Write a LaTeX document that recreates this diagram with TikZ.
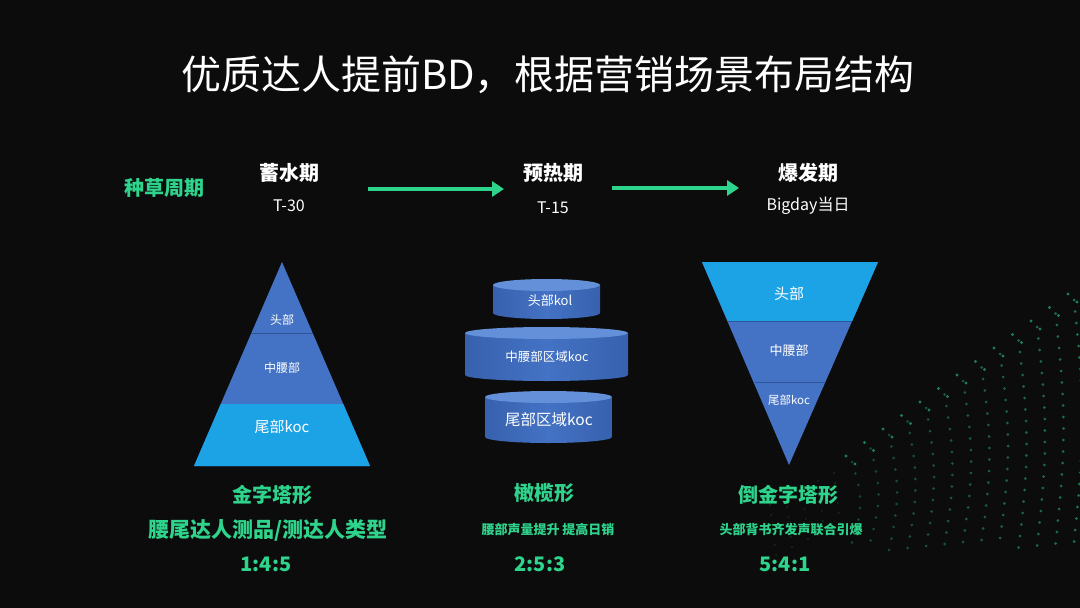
\documentclass[tikz,border=0pt]{standalone}
\usepackage{fontspec}
\setmainfont{Noto Sans CJK SC}
\usetikzlibrary{arrows.meta}
\definecolor{bg}{HTML}{0C0C0C}
\definecolor{grn}{HTML}{2ED38C}
\definecolor{pblue}{HTML}{4472C4}
\definecolor{pcyan}{HTML}{1CA3E6}
\definecolor{pline}{HTML}{2F5597}
\definecolor{ctop}{HTML}{6390D8}
\definecolor{cedge}{HTML}{3761AE}
\definecolor{dotc}{HTML}{1F8A5E}
\newcommand{\fs}[1]{\fontsize{#1}{#1}\selectfont}
\begin{document}
\begin{tikzpicture}[x=1pt,y=-1pt,
  wtxt/.style={text=white,inner sep=0pt,font=\fs{20}\bfseries},
  wsub/.style={text=white,inner sep=0pt,font=\fs{16}},
  gtxt/.style={text=grn,inner sep=0pt,font=\fs{20}\bfseries},
  gsmall/.style={text=grn,inner sep=0pt,font=\fs{13}\bfseries},
  lbl/.style={text=white,inner sep=0pt},
  flow/.style={draw=grn,line width=4.5pt,-{Triangle[length=12pt,width=15pt]}},
  sep/.style={draw=pline,line width=1pt}]
\useasboundingbox (0,0) rectangle (1080,608);
\fill[bg] (0,0) rectangle (1080,608);

% decorative dots
\foreach \i in {0,...,12} {
  \pgfmathsetmacro\xx{852+\i*18.5}
  \pgfmathsetmacro\yt{462-\i*13.5}
  \pgfmathsetmacro\yb{552-\i*0.5}
  \pgfmathtruncatemacro\n{(\yb-\yt)/11.5}
  \pgfmathsetmacro\op{0.45+\i*0.03}
  \foreach \j in {0,...,\n} {
    \pgfmathsetmacro\yy{\yt+\j*11.5}
    \pgfmathsetmacro\xo{\xx+8*sin(\j/(\n+0.01)*180)}
    \fill[dotc,opacity=\op] (\xo,\yy) circle (1.5);
  }
  \fill[dotc,opacity=0.9] (\xx-6,\yt-6) circle (1.6);
  \fill[dotc,opacity=0.9] (\xx+3,\yt+2) circle (1.6);
}
\foreach \i in {0,...,4} {
  \pgfmathsetmacro\xx{770+\i*16}
  \pgfmathsetmacro\yt{505-\i*8}
  \foreach \j in {0,...,5} {
    \pgfmathsetmacro\yy{\yt+\j*10}
    \fill[dotc,opacity=0.25] (\xx+\j*1.2,\yy) circle (1.1);
  }
}

% title
\node[text=white,font=\fs{40}] (title) at (548,75) {优质达人提前BD，根据营销场景布局结构};

% phases
\node[gtxt] (cycle) at (164,188) {种草周期};
\node[wtxt] (p1) at (289,173) {蓄水期};
\node[wsub] (p1t) at (289,206) {T-30};
\node[wtxt] (p2) at (553,173) {预热期};
\node[wsub] (p2t) at (553,208) {T-15};
\node[wtxt] (p3) at (808,173) {爆发期};
\node[wsub] (p3t) at (808,206) {Bigday当日};
\coordinate (a1s) at (368,189);
\coordinate (a1e) at (504,189);
\coordinate (a2s) at (612,188);
\coordinate (a2e) at (739,188);
\draw[flow] (a1s) -- (a1e);
\draw[flow] (a2s) -- (a2e);

% pyramid
\fill[pblue] (282,262) -- (194,466) -- (370,466) -- cycle;
\fill[pcyan] (220.8,404) -- (194,466) -- (370,466) -- (343.2,404) -- cycle;
\draw[sep] (251.4,333) -- (312.6,333);
\node[lbl,font=\fs{12}] (py1) at (282,320) {头部};
\node[lbl,font=\fs{12}] (py2) at (282,368) {中腰部};
\node[lbl,font=\fs{15}] (py3) at (282,427) {尾部koc};

% cylinders
\foreach \cx/\w/\yt/\yb in {546.5/107/285/313, 546.5/163/333/375, 548.5/127/397/437} {
  \pgfmathsetmacro\rx{\w/2}
  \shade[left color=cedge,right color=cedge,middle color=pblue]
    (\cx-\rx,\yt) -- (\cx-\rx,\yb) arc[start angle=180,end angle=0,x radius=\rx,y radius=6] -- (\cx+\rx,\yt) -- cycle;
  \fill[ctop] (\cx,\yt) ellipse [x radius=\rx,y radius=6];
}
\node[lbl,font=\fs{13}] (c1) at (550,301) {头部kol};
\node[lbl,font=\fs{12.5}] (c2) at (547,357) {中腰部区域koc};
\node[lbl,font=\fs{15.5}] (c3) at (549,420) {尾部区域koc};

% inverted pyramid
\fill[pblue] (702,262) -- (878,262) -- (789,465) -- cycle;
\fill[pcyan] (702,262) -- (878,262) -- (852.2,321) -- (727.8,321) -- cycle;
\draw[sep] (727.8,321) -- (852.2,321);
\draw[sep] (754.6,382) -- (825.4,382);
\node[lbl,font=\fs{15}] (ip1) at (789,294) {头部};
\node[lbl,font=\fs{13}] (ip2) at (789,351) {中腰部};
\node[lbl,font=\fs{11.5}] (ip3) at (789,400) {尾部koc};

% captions
\node[gtxt] (s1) at (272,495) {金字塔形};
\node[gtxt,font=\fs{21}\bfseries] (s1d) at (268,530) {腰尾达人测品/测达人类型};
\node[gtxt] (s1r) at (266,564) {1:4:5};
\node[gtxt] (s2) at (544,493) {橄榄形};
\node[gsmall] (s2d) at (548,530) {腰部声量提升 提高日销};
\node[gtxt] (s2r) at (540,564) {2:5:3};
\node[gtxt] (s3) at (788,495) {倒金字塔形};
\node[gsmall] (s3d) at (791,530) {头部背书齐发声联合引爆};
\node[gtxt] (s3r) at (785,564) {5:4:1};
\end{tikzpicture}
\end{document}
